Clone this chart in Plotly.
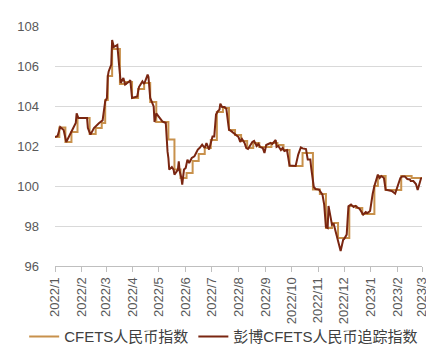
import plotly.graph_objects as go

# ---- data ----
bbg_dates = [
    "2022-01-01", "2022-01-04", "2022-01-07", "2022-01-11", "2022-01-14", "2022-01-19", "2022-01-21",
    "2022-01-25", "2022-01-26", "2022-01-28", "2022-02-07", "2022-02-08", "2022-02-11", "2022-02-15",
    "2022-02-21", "2022-02-25", "2022-02-28", "2022-03-02", "2022-03-03", "2022-03-04", "2022-03-07",
    "2022-03-08", "2022-03-10", "2022-03-14", "2022-03-16", "2022-03-18", "2022-03-21", "2022-03-23",
    "2022-03-28", "2022-03-29", "2022-03-31", "2022-04-06", "2022-04-08", "2022-04-12", "2022-04-14",
    "2022-04-18", "2022-04-19", "2022-04-21", "2022-04-25", "2022-04-26", "2022-04-28", "2022-05-05",
    "2022-05-09", "2022-05-10", "2022-05-11", "2022-05-12", "2022-05-13", "2022-05-16", "2022-05-18",
    "2022-05-19", "2022-05-23", "2022-05-24", "2022-05-25", "2022-05-27", "2022-05-28", "2022-05-30",
    "2022-06-01", "2022-06-03", "2022-06-05", "2022-06-08", "2022-06-11", "2022-06-13", "2022-06-15",
    "2022-06-17", "2022-06-20", "2022-06-23", "2022-06-25", "2022-06-28", "2022-06-30", "2022-07-02",
    "2022-07-04", "2022-07-06", "2022-07-08", "2022-07-10", "2022-07-11", "2022-07-13", "2022-07-16",
    "2022-07-18", "2022-07-20", "2022-07-21", "2022-07-24", "2022-07-26", "2022-07-29", "2022-08-01",
    "2022-08-03", "2022-08-05", "2022-08-08", "2022-08-10", "2022-08-12", "2022-08-15", "2022-08-17",
    "2022-08-19", "2022-08-22", "2022-08-24", "2022-08-26", "2022-08-29", "2022-08-31", "2022-09-02",
    "2022-09-05", "2022-09-07", "2022-09-09", "2022-09-13", "2022-09-14", "2022-09-16", "2022-09-19",
    "2022-09-21", "2022-09-23", "2022-09-26", "2022-09-29", "2022-10-06", "2022-10-09", "2022-10-12",
    "2022-10-14", "2022-10-18", "2022-10-20", "2022-10-23", "2022-10-24", "2022-10-27", "2022-10-29",
    "2022-11-02", "2022-11-06", "2022-11-08", "2022-11-10", "2022-11-12", "2022-11-13", "2022-11-16",
    "2022-11-17", "2022-11-19", "2022-11-23", "2022-11-25", "2022-11-27", "2022-11-30", "2022-12-01",
    "2022-12-04", "2022-12-06", "2022-12-09", "2022-12-12", "2022-12-14", "2022-12-17", "2022-12-19",
    "2022-12-23", "2022-12-26", "2022-12-28", "2022-12-31", "2023-01-03", "2023-01-05", "2023-01-09",
    "2023-01-11", "2023-01-13", "2023-01-16", "2023-01-18", "2023-01-22", "2023-01-25", "2023-01-29",
    "2023-01-31", "2023-02-04", "2023-02-06", "2023-02-09", "2023-02-12", "2023-02-15", "2023-02-16",
    "2023-02-19", "2023-02-22", "2023-02-24", "2023-02-28", "2023-03-01",
]
bbg_values = [
    102.45, 102.5, 102.95, 102.8, 102.2, 102.65, 102.8,
    103.15, 103.63, 103.4, 103.4, 102.9, 102.57, 102.9,
    103.15, 103.28, 104.23, 104.4, 105.48, 105.73, 106.07,
    107.3, 106.95, 107.05, 106.07, 105.15, 105.4, 105.07,
    105.23, 105.3, 104.4, 104.48, 104.95, 105.23, 105.1,
    105.57, 105.45, 104.4, 103.98, 103.2, 103.63, 103.23,
    103.15, 102.32, 101.73, 101.4, 100.82, 100.95, 100.82,
    100.57, 100.82, 101.23, 100.75, 100.4, 100.07, 100.82,
    100.9, 101.32, 101.15, 101.4, 101.48, 101.65, 101.82,
    101.9, 102.07, 101.9, 102.15, 101.82, 102.23, 102.48,
    102.48, 103.57, 103.73, 103.82, 104.12, 103.95, 103.95,
    103.85, 103.15, 102.82, 102.73, 102.65, 102.57, 102.45,
    102.2, 102.35, 102.15, 101.9, 101.85, 102.05, 102.2,
    102.25, 102.0, 102.1, 101.95, 101.9, 101.65, 102.05,
    102.1, 102.15, 102.1, 102.3, 101.95, 102.0, 101.8,
    101.9, 101.75, 101.8, 101.02, 101.0, 101.57, 101.93,
    101.88, 101.85, 101.32, 101.32, 100.9, 99.95, 99.85,
    99.82, 99.57, 99.07, 97.95, 97.9, 99.0, 98.23,
    98.07, 98.1, 97.4, 97.15, 96.75, 97.32, 97.35,
    97.57, 98.98, 99.07, 98.95, 99.0, 98.9, 98.85,
    98.57, 98.7, 98.65, 98.75, 99.6, 100.0, 100.57,
    100.4, 100.5, 100.4, 99.82, 99.78, 99.75, 99.62,
    99.9, 100.4, 100.48, 100.48, 100.35, 100.33, 100.25,
    100.25, 100.1, 99.8, 100.4, 100.35,
]

cfets_dates = [
    "2022-01-01", "2022-01-06", "2022-01-13", "2022-01-20", "2022-01-27", "2022-02-10", "2022-02-17",
    "2022-02-24", "2022-02-28", "2022-03-03", "2022-03-08", "2022-03-17", "2022-03-24", "2022-03-31",
    "2022-04-07", "2022-04-14", "2022-04-21", "2022-04-28", "2022-05-12", "2022-05-19", "2022-05-26",
    "2022-06-02", "2022-06-09", "2022-06-16", "2022-06-23", "2022-06-30", "2022-07-07", "2022-07-14",
    "2022-07-21", "2022-07-28", "2022-08-04", "2022-08-11", "2022-08-18", "2022-08-25", "2022-09-01",
    "2022-09-08", "2022-09-15", "2022-09-22", "2022-09-29", "2022-10-14", "2022-10-26", "2022-11-03",
    "2022-11-10", "2022-11-17", "2022-11-24", "2022-12-07", "2022-12-15", "2022-12-22", "2023-01-05",
    "2023-01-09", "2023-01-18", "2023-02-05", "2023-02-17", "2023-03-01",
]
cfets_values = [
    102.45, 102.93, 102.2, 102.7, 103.4, 102.6, 102.9,
    103.15, 104.3, 105.5, 106.85, 105.1, 105.2, 104.4,
    104.85, 105.15, 104.2, 103.2, 102.32, 100.82, 100.4,
    100.65, 101.25, 101.6, 101.9, 102.3, 103.7, 103.9,
    102.8, 102.55, 102.25, 101.9, 102.15, 101.95, 101.95,
    102.15, 102.05, 101.8, 101.0, 101.65, 99.82, 99.6,
    97.9, 98.15, 97.4, 99.0, 98.9, 98.6, 100.0,
    100.5, 99.8, 100.5, 100.4, 100.4,
]

series_names = ["CFETS人民币指数", "彭博CFETS人民币追踪指数"]
y_ticks = [96, 98, 100, 102, 104, 106, 108]

FONT = "Liberation Sans, Arial, Noto Sans CJK SC, sans-serif"

fig = go.Figure()
fig.add_trace(go.Scatter(
    x=cfets_dates, y=cfets_values, name=series_names[0], mode="lines",
    line=dict(color="#C8914C", width=2, shape="hv"),
))
fig.add_trace(go.Scatter(
    x=bbg_dates, y=bbg_values, name=series_names[1], mode="lines",
    line=dict(color="#7A2611", width=2),
))

fig.update_layout(
    width=434, height=356,
    margin=dict(l=47, r=20, t=18, b=98, autoexpand=False),
    paper_bgcolor="white", plot_bgcolor="white",
    font=dict(family=FONT, size=13, color="#595959"),
    showlegend=True,
    legend=dict(
        orientation="h", x=-0.084, xanchor="left", y=-0.295, yanchor="middle",
        font=dict(size=15, color="#404040"), itemwidth=30,
        tracegroupgap=0, bgcolor="rgba(0,0,0,0)",
    ),
    xaxis=dict(
        type="date",
        range=["2022-01-01", "2023-03-01"],
        dtick="M1", tick0="2022-01-01", tickformat="%Y/%-m",
        tickangle=-90, ticks="outside", ticklen=5, tickcolor="#bfbfbf",
        showline=True, linecolor="#bfbfbf", linewidth=1,
        showgrid=False, zeroline=False, automargin=False,
        tickfont=dict(size=13, color="#595959"),
    ),
    yaxis=dict(
        range=[96, 108], tickvals=y_ticks,
        showgrid=True, gridcolor="#d9d9d9", gridwidth=1,
        zeroline=False, showline=False, ticks="", automargin=False,
        ticklabelstandoff=15,
        tickfont=dict(size=13, color="#595959"),
    ),
)

fig.write_html("out.html")
